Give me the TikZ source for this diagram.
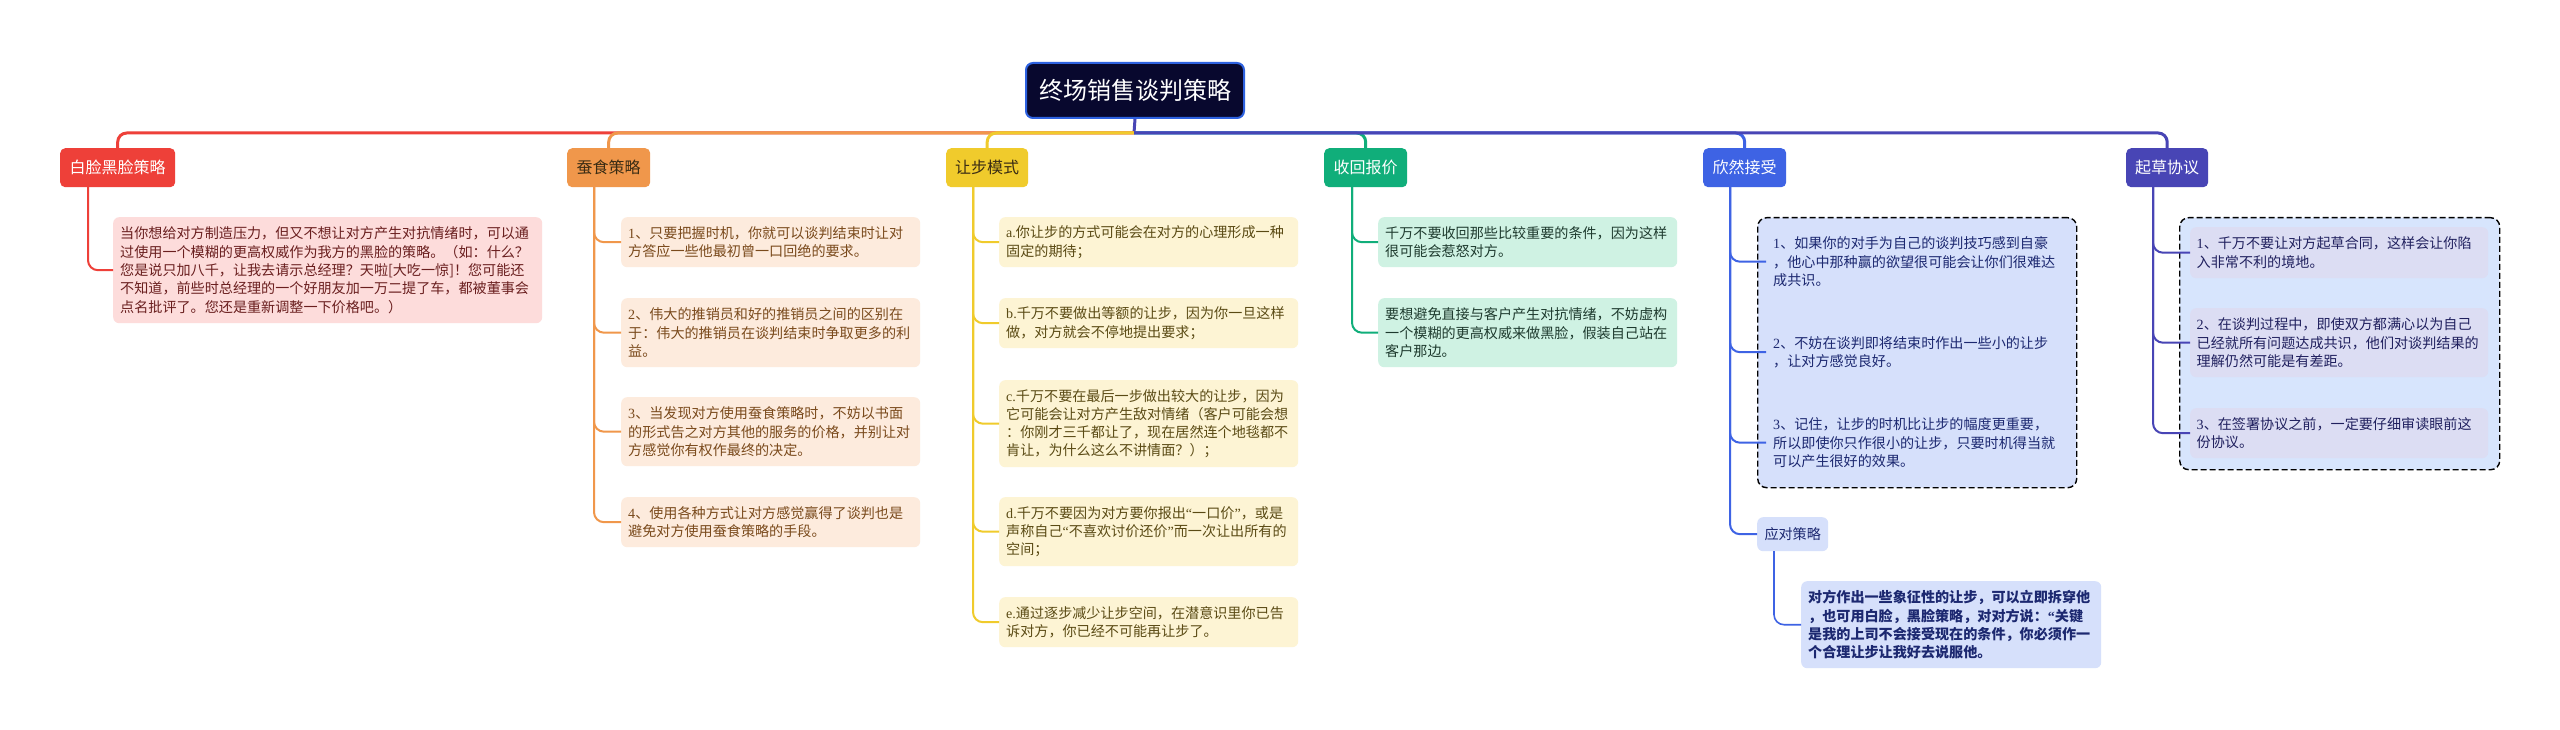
\documentclass[tikz,border=0pt]{standalone}
\usepackage{fontspec}
\newfontfamily\cjk{Noto Sans CJK SC}
\newfontfamily\lat{Liberation Serif}
\newcommand{\lt}[1]{{\lat #1}}
\definecolor{cRed}{HTML}{EE4039}
\definecolor{cOrg}{HTML}{F0974B}
\definecolor{cYel}{HTML}{F0CB2C}
\definecolor{cGrn}{HTML}{10AE7A}
\definecolor{cBlu}{HTML}{3E63E4}
\definecolor{cPur}{HTML}{4845B5}
\definecolor{fRed}{HTML}{FDDCDB}
\definecolor{fOrg}{HTML}{FDEBDD}
\definecolor{fYel}{HTML}{FDF4D4}
\definecolor{fGrn}{HTML}{CFF2E3}
\definecolor{fBlu}{HTML}{D6E0FB}
\definecolor{fPurG}{HTML}{D7E5FD}
\definecolor{fPur}{HTML}{DCDDF3}
\definecolor{tRed}{HTML}{6A1F1F}
\definecolor{tOrg}{HTML}{7A4A1C}
\definecolor{tYel}{HTML}{5A4A14}
\definecolor{tGrn}{HTML}{1E3A2E}
\definecolor{tBlu}{HTML}{1C2870}
\definecolor{tPur}{HTML}{20205E}
\definecolor{tDark}{HTML}{3A2C14}
\definecolor{rootFill}{HTML}{08082E}
\definecolor{rootBorder}{HTML}{2E62E0}
\begin{document}
\begin{tikzpicture}[x=1pt,y=-1pt,
  box/.style={anchor=north west, rounded corners=6pt, inner xsep=7pt, inner ysep=0pt, align=left, font=\cjk\fontsize{14.1}{18.3}\selectfont},
  br/.style={anchor=north west, rounded corners=5pt, minimum height=39pt, inner sep=0pt, font=\cjk\fontsize{16}{18}\selectfont},
  trunk/.style={line width=3pt, rounded corners=9pt},
  twig/.style={line width=2pt, rounded corners=10pt},
  grp/.style={anchor=north west, draw=black, dash pattern=on 6pt off 3pt, line width=1.4pt, rounded corners=9pt, inner sep=0pt},
]
\fill[white] (0,0) rectangle (2560,730);
\useasboundingbox (0,0) rectangle (2560,730);

% root
\node[anchor=north west, fill=rootFill, draw=rootBorder, line width=2pt, rounded corners=7pt, minimum width=218pt, minimum height=55pt, font=\cjk\fontsize{24}{28}\selectfont, text=white] (root) at (1025,62) {终场销售谈判策略};
\coordinate (hub) at (1134,133);

% branches
\node[br, fill=cRed, text=white, minimum width=115pt] (b1) at (60,148) {白脸黑脸策略};
\node[br, fill=cOrg, text=tDark, minimum width=83pt] (b2) at (567,148) {蚕食策略};
\node[br, fill=cYel, text=tDark, minimum width=82pt] (b3) at (946,148) {让步模式};
\node[br, fill=cGrn, text=white, minimum width=83pt] (b4) at (1324,148) {收回报价};
\node[br, fill=cBlu, text=white, minimum width=83pt] (b5) at (1703,148) {欣然接受};
\node[br, fill=cPur, text=white, minimum width=82pt] (b6) at (2126,148) {起草协议};

\draw[line width=3pt, cPur] (root.south) -- (hub);
\draw[trunk, cRed] (hub) -| (b1.north);
\draw[trunk, cOrg] (hub) -| (b2.north);
\draw[trunk, cYel] (hub) -| (b3.north);
\draw[trunk, cGrn] (hub) -| (b4.north);
\draw[trunk, cBlu] (hub) -| (b5.north);
\draw[trunk, cPur] (hub) -| (b6.north);

% branch 1
\coordinate (v1) at (88,187);
\node[box, fill=fRed, text=tRed, text width=415pt, minimum height=106pt] (c11) at (113,217) {当你想给对方制造压力，但又不想让对方产生对抗情绪时，可以通\\过使用一个模糊的更高权威作为我方的黑脸的策略。（如：什么？\\您是说只加八千，让我去请示总经理？天啦[大吃一惊]！您可能还\\不知道，前些时总经理的一个好朋友加一万二提了车，都被董事会\\点名批评了。您还是重新调整一下价格吧。）};
\draw[twig, cRed] (v1) |- (c11.west);

% branch 2
\coordinate (v2) at (594,187);
\node[box, fill=fOrg, text=tOrg, text width=285pt, minimum height=50pt] (c21) at (621,217) {\lt{1}、只要把握时机，你就可以谈判结束时让对\\方答应一些他最初曾一口回绝的要求。};
\node[box, fill=fOrg, text=tOrg, text width=285pt, minimum height=69pt] (c22) at (621,298) {\lt{2}、伟大的推销员和好的推销员之间的区别在\\于：伟大的推销员在谈判结束时争取更多的利\\益。};
\node[box, fill=fOrg, text=tOrg, text width=285pt, minimum height=69pt] (c23) at (621,397) {\lt{3}、当发现对方使用蚕食策略时，不妨以书面\\的形式告之对方其他的服务的价格，并别让对\\方感觉你有权作最终的决定。};
\node[box, fill=fOrg, text=tOrg, text width=285pt, minimum height=50pt] (c24) at (621,497) {\lt{4}、使用各种方式让对方感觉赢得了谈判也是\\避免对方使用蚕食策略的手段。};
\foreach \c in {c21,c22,c23,c24} \draw[twig, cOrg] (v2) |- (\c.west);

% branch 3
\coordinate (v3) at (973,187);
\node[box, fill=fYel, text=tYel, text width=285pt, minimum height=50pt] (c31) at (999,217) {\lt{a.}你让步的方式可能会在对方的心理形成一种\\固定的期待；};
\node[box, fill=fYel, text=tYel, text width=285pt, minimum height=50pt] (c32) at (999,298) {\lt{b.}千万不要做出等额的让步，因为你一旦这样\\做，对方就会不停地提出要求；};
\node[box, fill=fYel, text=tYel, text width=285pt, minimum height=87pt] (c33) at (999,380) {\lt{c.}千万不要在最后一步做出较大的让步，因为\\它可能会让对方产生敌对情绪（客户可能会想\\：你刚才三千都让了，现在居然连个地毯都不\\肯让，为什么这么不讲情面？）；};
\node[box, fill=fYel, text=tYel, text width=285pt, minimum height=69pt] (c34) at (999,497) {\lt{d.}千万不要因为对方要你报出\lt{“}一口价\lt{”}，或是\\声称自己\lt{“}不喜欢讨价还价\lt{”}而一次让出所有的\\空间；};
\node[box, fill=fYel, text=tYel, text width=285pt, minimum height=50pt] (c35) at (999,597) {\lt{e.}通过逐步减少让步空间，在潜意识里你已告\\诉对方，你已经不可能再让步了。};
\foreach \c in {c31,c32,c33,c34,c35} \draw[twig, cYel] (v3) |- (\c.west);

% branch 4
\coordinate (v4) at (1352,187);
\node[box, fill=fGrn, text=tGrn, text width=285pt, minimum height=50pt] (c41) at (1378,217) {千万不要收回那些比较重要的条件，因为这样\\很可能会惹怒对方。};
\node[box, fill=fGrn, text=tGrn, text width=285pt, minimum height=69pt] (c42) at (1378,298) {要想避免直接与客户产生对抗情绪，不妨虚构\\一个模糊的更高权威来做黑脸，假装自己站在\\客户那边。};
\foreach \c in {c41,c42} \draw[twig, cGrn] (v4) |- (\c.west);

% branch 5
\coordinate (v5) at (1730,187);
\node[grp, fill=fBlu, minimum width=319pt, minimum height=270pt] (g5) at (1757,217) {};
\node[box, fill=fBlu, text=tBlu, text width=287pt, minimum height=69pt] (c51) at (1766,227) {\lt{1}、如果你的对手为自己的谈判技巧感到自豪\\，他心中那种赢的欲望很可能会让你们很难达\\成共识。};
\node[box, fill=fBlu, text=tBlu, text width=287pt, minimum height=50pt] (c52) at (1766,327) {\lt{2}、不妨在谈判即将结束时作出一些小的让步\\，让对方感觉良好。};
\node[box, fill=fBlu, text=tBlu, text width=287pt, minimum height=69pt] (c53) at (1766,408) {\lt{3}、记住，让步的时机比让步的幅度更重要，\\所以即使你只作很小的让步，只要时机得当就\\可以产生很好的效果。};
\node[box, fill=fBlu, text=tBlu, text width=57pt, minimum height=34pt, align=center] (c54) at (1757,517) {应对策略};
\node[box, fill=fBlu, text=tBlu, text width=286pt, minimum height=87pt, font=\cjk\bfseries\fontsize{14.1}{18.3}\selectfont] (c55) at (1801,581) {对方作出一些象征性的让步，可以立即拆穿他\\，也可用白脸，黑脸策略，对对方说：\lt{“}关键\\是我的上司不会接受现在的条件，你必须作一\\个合理让步让我好去说服他。};
\foreach \c in {c51,c52,c53,c54} \draw[twig, cBlu] (v5) |- (\c.west);
\coordinate (v54) at (1774,551);
\draw[twig, line width=1.6pt, cBlu] (v54) |- (c55.west);

% branch 6
\coordinate (v6) at (2153,187);
\node[grp, fill=fPurG, minimum width=320pt, minimum height=252pt] (g6) at (2179,217) {};
\node[box, fill=fPur, text=tPur, text width=285pt, minimum height=51pt, inner xsep=6.5pt] (c61) at (2190,227) {\lt{1}、千万不要让对方起草合同，这样会让你陷\\入非常不利的境地。};
\node[box, fill=fPur, text=tPur, text width=285pt, minimum height=69pt, inner xsep=6.5pt] (c62) at (2190,308) {\lt{2}、在谈判过程中，即使双方都满心以为自己\\已经就所有问题达成共识，他们对谈判结果的\\理解仍然可能是有差距。};
\node[box, fill=fPur, text=tPur, text width=285pt, minimum height=50pt, inner xsep=6.5pt] (c63) at (2190,408) {\lt{3}、在签署协议之前，一定要仔细审读眼前这\\份协议。};
\foreach \c in {c61,c62,c63} \draw[twig, cPur] (v6) |- (\c.west);
\end{tikzpicture}
\end{document}
